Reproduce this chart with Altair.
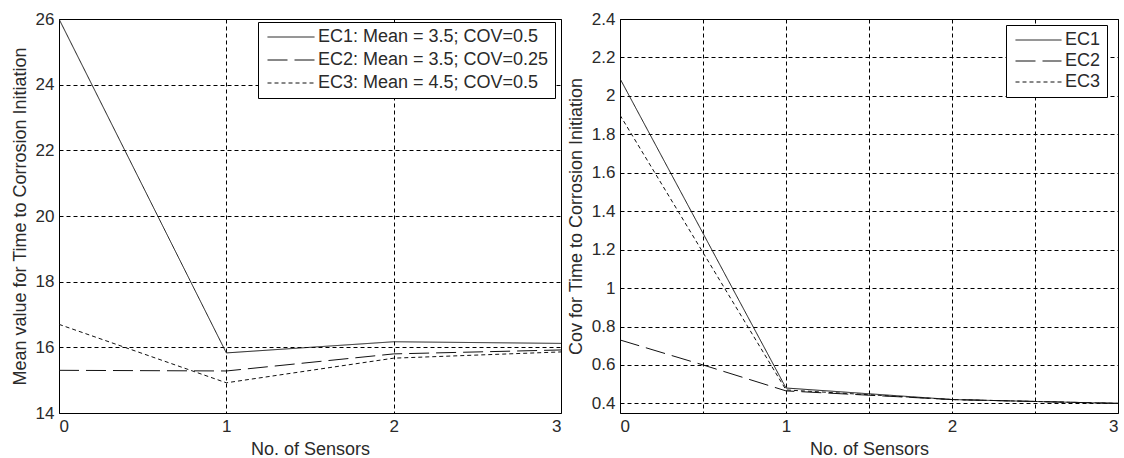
import altair as alt
import pandas as pd

# ---------------- data ----------------
series = ["EC1", "EC2", "EC3"]

# Left panel: mean value for time to corrosion initiation
left_labels = ["EC1: Mean = 3.5; COV=0.5", "EC2: Mean = 3.5; COV=0.25", "EC3: Mean = 4.5; COV=0.5"]
left_x = [0, 1, 2, 3]
left_ec1 = [26.0, 15.83, 16.17, 16.12]
left_ec2 = [15.30, 15.28, 15.80, 15.92]
left_ec3 = [16.70, 14.92, 15.67, 15.86]

# Right panel: COV for time to corrosion initiation
right_labels = ["EC1", "EC2", "EC3"]
right_x_ec1 = [0, 1, 2, 3]
right_ec1 = [2.09, 0.48, 0.42, 0.40]
right_x_ec2 = [0, 0.5, 1, 2, 3]
right_ec2 = [0.73, 0.60, 0.465, 0.42, 0.40]
right_x_ec3 = [0, 1, 2, 3]
right_ec3 = [1.90, 0.47, 0.42, 0.40]

left_yticks = [14, 16, 18, 20, 22, 24, 26]
right_yticks = [0.4, 0.6, 0.8, 1.0, 1.2, 1.4, 1.6, 1.8, 2.0, 2.2, 2.4]
left_xticks = [0, 1, 2, 3]
right_xticks = [0, 0.5, 1, 1.5, 2, 2.5, 3]

# ---------------- frames ----------------
rows = []
for lab, ys in zip(left_labels, [left_ec1, left_ec2, left_ec3]):
    for xv, yv in zip(left_x, ys):
        rows.append({"x": xv, "y": yv, "series": lab})
df_left = pd.DataFrame(rows)

rows = []
for lab, xs, ys in zip(right_labels,
                       [right_x_ec1, right_x_ec2, right_x_ec3],
                       [right_ec1, right_ec2, right_ec3]):
    for xv, yv in zip(xs, ys):
        rows.append({"x": xv, "y": yv, "series": lab})
df_right = pd.DataFrame(rows)

dashes = [[1, 0], [20, 7], [4, 3]]
FONT = "Liberation Sans"
TXT = "#2a2a2a"


def panel(df, labels, ydomain, yticks, ytitle, xticks, lx, ly, w, sym_len, rowpad):
    return alt.Chart(df).mark_line(color="#111111", strokeWidth=1, clip=True).encode(
        x=alt.X("x:Q",
                scale=alt.Scale(domain=[0, 3], nice=False, zero=False),
                axis=alt.Axis(values=xticks, title="No. of Sensors",
                              labelExpr="datum.value % 1 == 0 ? datum.label : ''",
                              format="~g")),
        y=alt.Y("y:Q",
                scale=alt.Scale(domain=ydomain, nice=False, zero=False),
                axis=alt.Axis(values=yticks, title=ytitle, format="~g")),
        strokeDash=alt.StrokeDash(
            "series:N",
            scale=alt.Scale(domain=labels, range=dashes),
            legend=alt.Legend(title=None, orient="none", legendX=lx, legendY=ly,
                              symbolType="stroke", symbolSize=sym_len * sym_len,
                              symbolStrokeColor="#111111", symbolStrokeWidth=1,
                              labelFontSize=18, labelFont=FONT, labelColor=TXT,
                              labelLimit=400, labelOffset=3, clipHeight=18,
                              strokeColor="#000000", fillColor="#ffffff",
                              padding=6, rowPadding=rowpad, symbolOffset=3),
        ),
    ).properties(width=w, height=394)


left = panel(df_left, left_labels, [14, 26], left_yticks,
             "Mean value for Time to Corrosion Initiation", left_xticks,
             199, 3, 502, 47, 5)
right = panel(df_right, right_labels, [0.35, 2.4], right_yticks,
              "Cov for Time to Corrosion Initiation", right_xticks,
              386, 6, 498, 46, 3)

chart = alt.hconcat(left, right, spacing=4).resolve_scale(
    strokeDash="independent", y="independent"
).resolve_legend(strokeDash="independent").properties(
    padding={"left": 10, "top": 9, "right": 0, "bottom": 0},
    background="#ffffff",
).configure_view(
    stroke="#000000", strokeWidth=1
).configure_axis(
    grid=True, gridColor="#000000", gridDash=[4, 3], gridWidth=1, gridOpacity=1,
    domain=False, ticks=False,
    labelFont=FONT, labelFontSize=17, labelColor=TXT, labelPadding=5,
    titleFont=FONT, titleFontSize=18, titleColor=TXT, titleFontWeight="normal",
    titlePadding=6,
)

chart.save("out.html", embed_options={"renderer": "svg", "actions": False})
